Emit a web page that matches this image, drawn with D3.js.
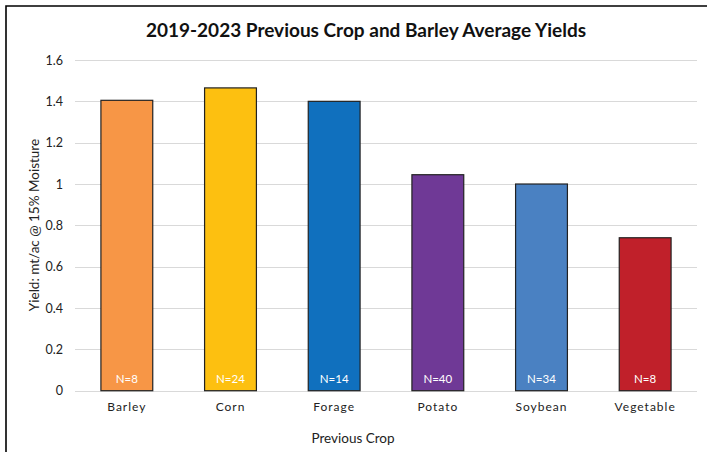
<!DOCTYPE html>
<html><head><meta charset="utf-8">
<script src="https://cdn.jsdelivr.net/npm/d3@7"></script>
<style>body{margin:0;background:#fff;} svg{display:block;font-family:Lato,"Open Sans",sans-serif;}</style>
</head><body>
<svg id="c" width="707" height="452"></svg>
<script>
const categories = ["Barley","Corn","Forage","Potato","Soybean","Vegetable"];
const yields = [1.405, 1.465, 1.40, 1.045, 1.0, 0.74];
const counts = ["N=8","N=24","N=14","N=40","N=34","N=8"];
const colors = ["#F79646","#FDC010","#1070BE","#6F3996","#4A81C2","#C0202A"];
const yTicks = [0,0.2,0.4,0.6,0.8,1,1.2,1.4,1.6];
const title = "2019-2023 Previous Crop and Barley Average Yields";
const xTitle = "Previous Crop";
const yTitle = "Yield: mt/ac @ 15% Moisture";

const svg = d3.select("#c");
// outer frame (left & top visible)
svg.append("path").attr("d","M6,452 V6 H707").attr("fill","none").attr("stroke","#000").attr("stroke-width",1.6);

const x = d3.scaleBand().domain(categories).range([75,697]).paddingInner(0.5).paddingOuter(0.25);
const y = d3.scaleLinear().domain([0,1.6]).range([390.7,60]);

// gridlines
svg.append("g").selectAll("line").data(yTicks).join("line")
  .attr("x1",75).attr("x2",697).attr("y1",d=>Math.round(y(d))+0.5).attr("y2",d=>Math.round(y(d))+0.5)
  .attr("stroke","#d9d9d9").attr("stroke-width",1);

// y axis labels
const ya = svg.append("g").attr("transform","translate(63,0)")
  .call(d3.axisLeft(y).tickValues(yTicks).tickSize(0).tickPadding(0).tickFormat(d=>String(d)));
ya.select(".domain").remove();
ya.selectAll("text").attr("font-size",12.5).attr("fill","#222").attr("font-family","Lato,sans-serif");

// bars
svg.append("g").selectAll("rect").data(categories).join("rect")
  .attr("x",d=>x(d)).attr("width",x.bandwidth())
  .attr("y",(d,i)=>y(yields[i])).attr("height",(d,i)=>y(0)-y(yields[i]))
  .attr("fill",(d,i)=>colors[i]).attr("stroke","#222").attr("stroke-width",1.2);

// N labels
svg.append("g").selectAll("text").data(categories).join("text")
  .attr("x",d=>x(d)+x.bandwidth()/2).attr("y",383)
  .attr("text-anchor","middle").attr("fill","#fff").attr("font-size",11.5)
  .text((d,i)=>counts[i]);

// x axis labels
const xa = svg.append("g").attr("transform","translate(0,402)")
  .call(d3.axisBottom(x).tickSize(0).tickPadding(0));
xa.select(".domain").remove();
xa.selectAll("text").attr("font-size",12).attr("fill","#222").attr("letter-spacing","1px")
  .attr("font-family","Lato,sans-serif");

// titles
svg.append("text").attr("x",366).attr("y",37).attr("text-anchor","middle")
  .attr("font-size",19).attr("font-weight","bold").attr("fill","#111").text(title);
svg.append("text").attr("x",353).attr("y",443).attr("text-anchor","middle")
  .attr("font-size",13.5).attr("fill","#222").text(xTitle);
svg.append("text").attr("transform","translate(39,225) rotate(-90)").attr("text-anchor","middle")
  .attr("font-size",13.5).attr("fill","#222").text(yTitle);
</script>
</body></html>
